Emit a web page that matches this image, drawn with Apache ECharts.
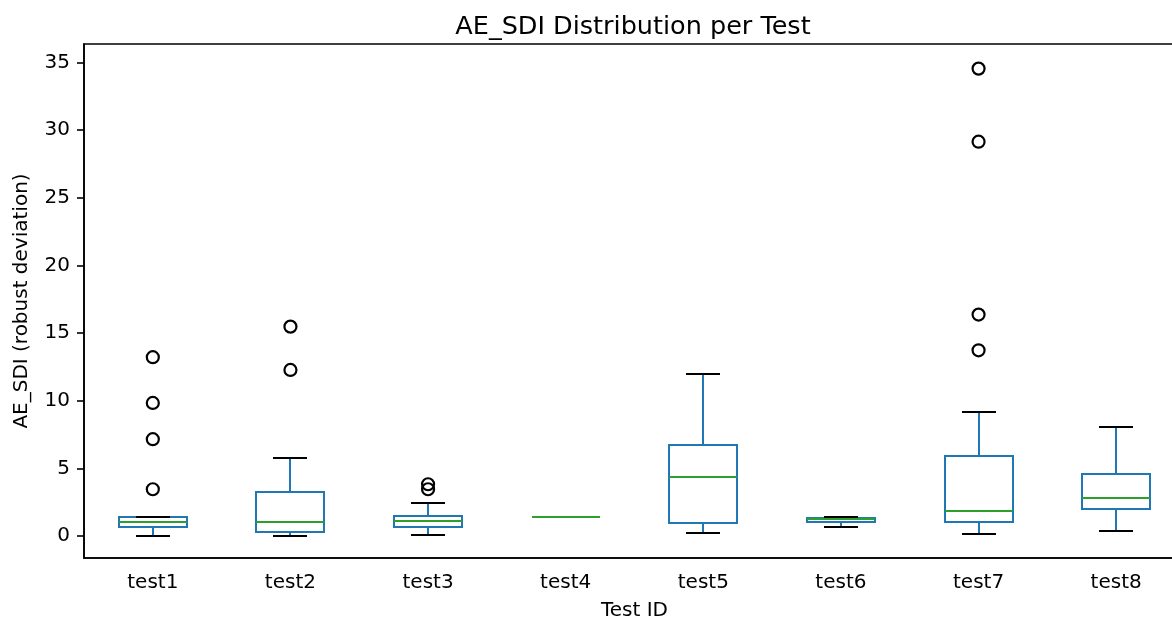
<!DOCTYPE html>
<html>
<head>
<meta charset="utf-8">
<script src="https://cdn.jsdelivr.net/npm/echarts@6/dist/echarts.min.js"></script>
<style>
  html, body { margin: 0; padding: 0; background: #fff; overflow: hidden; }
  #chart { width: 1172px; height: 620px; }
</style>
</head>
<body>
<div id="chart"></div>
<script>
// ---- data ----
const categories   = ['test1', 'test2', 'test3', 'test4', 'test5', 'test6', 'test7', 'test8'];
const whiskerLow   = [0.00, 0.00, 0.05, 1.43, 0.22, 0.69, 0.17, 0.35];
const q1           = [0.64, 0.32, 0.69, 1.43, 0.99, 1.01, 1.01, 2.02];
const median       = [1.03, 1.03, 1.13, 1.43, 4.38, 1.28, 1.87, 2.81];
const q3           = [1.38, 3.28, 1.48, 1.43, 6.70, 1.31, 5.94, 4.61];
const whiskerHigh  = [1.38, 5.76, 2.44, 1.43, 11.95, 1.40, 9.14, 8.03];
const outlierTest  = ['test1', 'test1', 'test1', 'test1', 'test2', 'test2', 'test3', 'test3', 'test7', 'test7', 'test7', 'test7'];
const outlierValue = [13.21, 9.83, 7.15, 3.45, 15.47, 12.27, 3.82, 3.45, 34.54, 29.14, 16.36, 13.72];
const yTicks       = [0, 5, 10, 15, 20, 25, 30, 35];

const FONT = 'DejaVu Sans';
const BLUE = '#1f77b4';
const GREEN = '#2ca02c';

const boxData = categories.map((c, i) => [i, whiskerLow[i], q1[i], median[i], q3[i], whiskerHigh[i]]);
const outlierData = outlierTest.map((t, k) => [categories.indexOf(t), outlierValue[k]]);

function renderBox(params, api) {
  const i = api.value(0);
  const band = api.size([1, 0])[0];
  const half = Math.round(band * 0.25);      // box width 0.5 of spacing
  const capHalf = Math.round(band * 0.125);  // cap width 0.25 of spacing
  const yOf = (k) => Math.round(api.coord([i, api.value(k)])[1]);
  const yLo = yOf(1), yQ1 = yOf(2), yMed = yOf(3), yQ3 = yOf(4), yHi = yOf(5);
  const x = Math.round(api.coord([i, api.value(3)])[0]);
  const lw = 2;
  const L = (x1, y1, x2, y2, c) => ({ type: 'line', shape: { x1, y1, x2, y2 }, style: { stroke: c, lineWidth: lw, lineCap: 'butt' } });
  return {
    type: 'group',
    children: [
      { type: 'polygon', shape: { points: [[x - half, yQ1], [x + half, yQ1], [x + half, yQ3], [x - half, yQ3]] },
        style: { fill: 'none', stroke: BLUE, lineWidth: lw } },
      L(x, yQ1, x, yLo, BLUE),
      L(x, yQ3, x, yHi, BLUE),
      L(x - capHalf, yLo, x + capHalf, yLo, '#000'),
      L(x - capHalf, yHi, x + capHalf, yHi, '#000'),
      L(x - half, yMed, x + half, yMed, GREEN)
    ]
  };
}

const chart = echarts.init(document.getElementById('chart'), null, { renderer: 'canvas', width: 1172, height: 620 });
chart.setOption({
  animation: false,
  backgroundColor: '#fff',
  textStyle: { fontFamily: FONT },
  title: {
    text: 'AE_SDI Distribution per Test',
    left: 628,
    textAlign: 'center',
    top: 9,
    textStyle: { fontFamily: FONT, fontSize: 25.5, fontWeight: 'normal', color: '#000' }
  },
  grid: {
    left: 84, width: 1101, top: 44, height: 514,
    outerBoundsMode: 'none',
    containLabel: false,
    show: true, borderColor: '#000', borderWidth: 1.6, backgroundColor: 'transparent'
  },
  xAxis: {
    type: 'category',
    data: categories,
    boundaryGap: true,
    name: 'Test ID',
    nameLocation: 'middle',
    nameGap: 43,
    nameTextStyle: { fontFamily: FONT, fontSize: 20, color: '#000' },
    axisLine: { onZero: false, lineStyle: { color: '#000', width: 1.6 } },
    axisTick: { alignWithLabel: true, length: 7, lineStyle: { color: '#000', width: 1.6 } },
    axisLabel: { margin: 15, fontFamily: FONT, fontSize: 20, color: '#000' },
    splitLine: { show: false }
  },
  yAxis: {
    type: 'value',
    min: -1.63,
    max: 36.36,
    name: 'AE_SDI (robust deviation)',
    nameLocation: 'middle',
    nameRotate: 90,
    nameGap: 52,
    nameTextStyle: { fontFamily: FONT, fontSize: 20, color: '#000' },
    axisLine: { show: true, lineStyle: { color: '#000', width: 1.6 } },
    axisTick: { show: true, length: 7, customValues: yTicks, lineStyle: { color: '#000', width: 1.6 } },
    axisLabel: { margin: 14, fontFamily: FONT, fontSize: 20, color: '#000', customValues: yTicks },
    splitLine: { show: false }
  },
  series: [
    {
      type: 'custom',
      renderItem: renderBox,
      data: boxData,
      encode: { x: 0, y: [1, 2, 3, 4, 5] },
      clip: false
    },
    {
      type: 'scatter',
      data: outlierData,
      symbol: 'circle',
      symbolSize: 12,
      itemStyle: { color: 'rgba(0,0,0,0)', borderColor: '#000', borderWidth: 2.2, opacity: 1 },
      emphasis: { disabled: true }
    }
  ]
});
</script>
</body>
</html>
